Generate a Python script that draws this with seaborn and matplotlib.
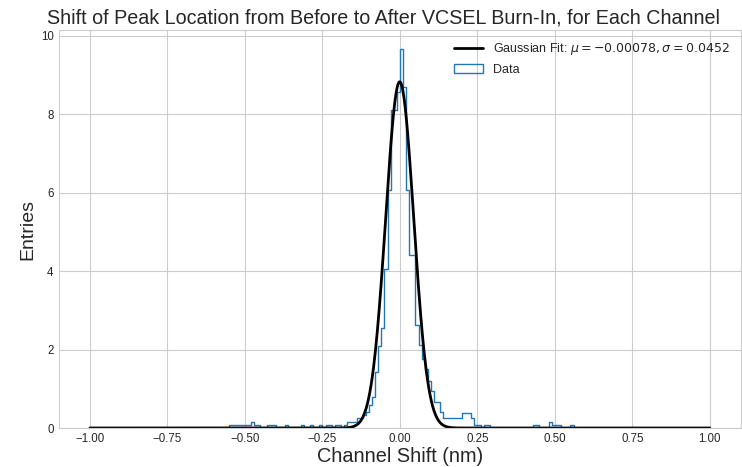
import numpy as np
import pandas as pd
import matplotlib
matplotlib.use("Agg")
import matplotlib.pyplot as plt
import seaborn as sns
from matplotlib.lines import Line2D
from matplotlib.patches import Patch

# ---- data ----
bin_start = -0.56
bin_width = 0.01
# density per 0.01-wide bin, from -0.56 to 0.57
density = [
    0.00, 0.08, 0.08, 0.08, 0.08, 0.08, 0.08, 0.08, 0.16, 0.08,   # -0.56 .. -0.47
    0.08, 0.00, 0.00, 0.08, 0.08, 0.08, 0.00, 0.00, 0.00, 0.08,   # -0.46 .. -0.37
    0.00, 0.00, 0.00, 0.00, 0.08, 0.00, 0.00, 0.08, 0.00, 0.00,   # -0.36 .. -0.27
    0.08, 0.00, 0.08, 0.08, 0.00, 0.08, 0.08, 0.00, 0.08, 0.16,   # -0.26 .. -0.17
    0.16, 0.16, 0.25, 0.25, 0.33, 0.42, 0.58, 0.80, 1.42, 2.10,   # -0.16 .. -0.07
    2.55, 4.06, 6.06, 8.11, 8.11, 8.56,                           # -0.06 .. -0.01
    9.66, 8.70, 6.08, 4.40, 4.40, 2.62, 2.11, 1.75, 1.50, 1.20,   #  0.00 ..  0.09
    0.95, 0.67, 0.67, 0.42, 0.25, 0.25, 0.25, 0.25, 0.25, 0.25,   #  0.10 ..  0.19
    0.37, 0.37, 0.37, 0.25, 0.08, 0.08, 0.00, 0.08, 0.08, 0.00,   #  0.20 ..  0.29
    0.00, 0.00, 0.00, 0.00, 0.00, 0.00, 0.00, 0.00, 0.00, 0.00,   #  0.30 ..  0.39
    0.00, 0.00, 0.00, 0.08, 0.08, 0.00, 0.00, 0.00, 0.16, 0.08,   #  0.40 ..  0.49
    0.08, 0.08, 0.00, 0.00, 0.00, 0.08, 0.00,                     #  0.50 ..  0.56
]
fit_mu = -0.00078
fit_sigma = 0.0452
fit_range = (-1.0, 1.0)

title = "Shift of Peak Location from Before to After VCSEL Burn-In, for Each Channel"
xlabel = "Channel Shift (nm)"
ylabel = "Entries"
fit_label = r"Gaussian Fit: $\mu = -0.00078, \sigma = 0.0452$"
data_label = "Data"

# ---- styling ----
sns.set_style("whitegrid")
plt.rcParams["font.family"] = ["Liberation Sans", "DejaVu Sans"]
plt.rcParams["axes.edgecolor"] = "0.8"
plt.rcParams["grid.color"] = "0.8"

edges = np.round(bin_start + bin_width * np.arange(len(density) + 1), 4)
centers = (edges[:-1] + edges[1:]) / 2
hist_df = pd.DataFrame({"shift": centers, "dens": np.asarray(density, dtype=float)})

fig = plt.figure(figsize=(7.42, 4.67), dpi=100)
ax = fig.add_axes([0.0795, 0.0835, 0.919, 0.852])

blue = "#1f77b4"
sns.histplot(data=hist_df, x="shift", weights="dens", bins=list(edges),
             element="step", fill=False, stat="count", color=blue,
             linewidth=1.0, ax=ax)

xs = np.linspace(fit_range[0], fit_range[1], 1000)
ys = np.exp(-0.5 * ((xs - fit_mu) / fit_sigma) ** 2) / (fit_sigma * np.sqrt(2 * np.pi))
sns.lineplot(x=xs, y=ys, color="black", linewidth=2.0, ax=ax, sort=False)

ax.set_ylim(bottom=0)
ax.set_title(title, fontsize=14.2, color="0.15", pad=5, x=0.476)
ax.set_xlabel(xlabel, fontsize=14.3, color="0.15", labelpad=1.5)
ax.set_ylabel(ylabel, fontsize=14, color="0.15", labelpad=3)
ax.tick_params(labelsize=8.3, colors="0.15", length=0, pad=3.8)

handles = [Line2D([], [], color="black", lw=2),
           Patch(facecolor="none", edgecolor=blue, lw=1)]
ax.legend(handles, [fit_label, data_label], loc="upper right",
          frameon=False, fontsize=9, handlelength=2.3)

fig.savefig("out.png", dpi=100)
